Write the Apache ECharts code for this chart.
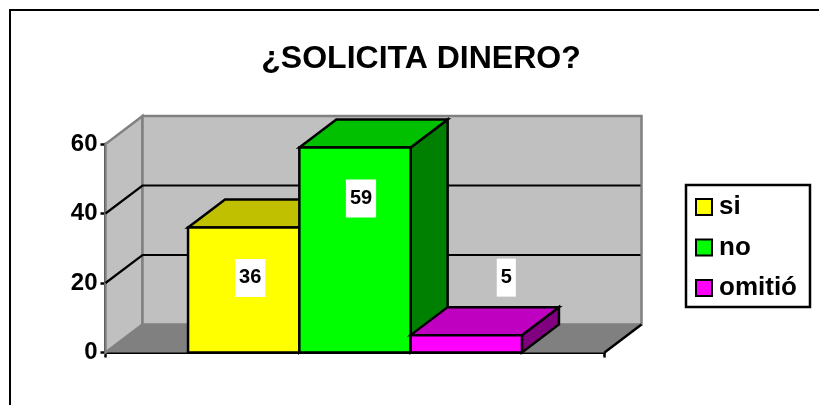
<!DOCTYPE html>
<html><head><meta charset="utf-8">
<style>html,body{margin:0;padding:0;background:#fff}#c{width:819px;height:405px}</style>
<script src="https://cdn.jsdelivr.net/npm/echarts@6/dist/echarts.min.js"></script>
</head><body><div id="c"></div>
<script>
const titleText = '¿SOLICITA DINERO?';
const categories = [''];
const seriesNames = ['si', 'no', 'omitió'];
const si = [36];
const no = [59];
const omitio = [5];
const yTicks = [0, 20, 40, 60];
const seriesColors = [
  {front: '#ffff00', top: '#c0c000', side: '#808000'},
  {front: '#00ff00', top: '#00c000', side: '#008000'},
  {front: '#ff00ff', top: '#c000c0', side: '#800080'}
];
const FONT = '"Liberation Sans", Arial, sans-serif';
const DX = 37, DY = 28;
const BAR_FRAC = 111.3 / 499;
const LABEL_OFFSETS = [[6.5, 50.5], [6, 51], [40, -57.5]];
const chart = echarts.init(document.getElementById('c'), null, {renderer: 'canvas'});
const lineS = {stroke: '#000', lineWidth: 2.5, lineJoin: 'miter'};
function wallsRender(params, api) {
  const cs = params.coordSys;
  const l = cs.x, r = cs.x + cs.width, t = cs.y, b = cs.y + cs.height;
  if (params.dataIndex === 0) {
    return {type: 'group', children: [
      {type: 'polygon', shape: {points: [[l, b], [l + DX, b - DY], [r + DX, b - DY], [r, b]]}, style: {fill: '#808080', stroke: null}},
      {type: 'polygon', shape: {points: [[l, b], [l, t], [l + DX, t - DY], [l + DX, b - DY]]}, style: {fill: '#c0c0c0', stroke: '#808080', lineWidth: 2.5}},
      {type: 'rect', shape: {x: l + DX, y: t - DY, width: cs.width, height: cs.height}, style: {fill: '#c0c0c0', stroke: '#808080', lineWidth: 2.5}},
      {type: 'line', shape: {x1: r, y1: b, x2: r + DX, y2: b - DY}, style: lineS}
    ]};
  }
  const v = api.value(0);
  if (v === 0 || v === yTicks[yTicks.length - 1]) return null;
  const y = api.coord([0, v])[1];
  return {type: 'polyline', shape: {points: [[l, y], [l + DX, y - DY], [r + DX - 1, y - DY]]}, style: {fill: null, stroke: '#000', lineWidth: 2.2}};
}
function barRender(idx) {
  return function (params, api) {
    const val = api.value(1);
    const c = api.coord([0, val]);
    const band = api.size([1, 0])[0];
    const w = band * BAR_FRAC;
    const x0 = c[0] + (idx - seriesNames.length / 2) * w;
    const x1 = x0 + w;
    const top = c[1], bot = api.coord([0, 0])[1];
    const col = seriesColors[idx];
    const st = {stroke: '#000', lineWidth: 2.5, lineJoin: 'miter'};
    const off = LABEL_OFFSETS[idx];
    return {type: 'group', children: [
      {type: 'polygon', shape: {points: [[x1, top], [x1 + DX, top - DY], [x1 + DX, bot - DY], [x1, bot]]}, style: {fill: col.side, ...st}},
      {type: 'polygon', shape: {points: [[x0, top], [x0 + DX, top - DY], [x1 + DX, top - DY], [x1, top]]}, style: {fill: col.top, ...st}},
      {type: 'rect', shape: {x: x0, y: top, width: w, height: bot - top}, style: {fill: col.front, ...st}},
      {type: 'text', z2: 50, style: {text: String(val), x: (x0 + x1) / 2 + off[0], y: top + off[1], align: 'center', verticalAlign: 'middle',
        font: 'bold 20px ' + FONT, fill: '#000', backgroundColor: '#fff', padding: [10, 4, 8, 4]}}
    ]};
  };
}
const values = [si, no, omitio];
chart.setOption({
  animation: false,
  backgroundColor: '#fff',
  title: {text: titleText, left: 416, top: 38, textAlign: 'center', textStyle: {fontFamily: FONT, fontWeight: 'bold', fontSize: 32, color: '#000'}},
  grid: {left: 105.5, top: 144, width: 499, height: 208.5},
  legend: {
    orient: 'vertical', left: 686, top: 185, data: seriesNames, icon: 'rect', itemWidth: 16, itemHeight: 16, itemGap: 14.5,
    backgroundColor: '#fff', borderColor: '#000', borderWidth: 2.5, padding: [9, 13, 6, 9], selectedMode: false,
    textStyle: {fontFamily: FONT, fontWeight: 'bold', fontSize: 26, color: '#000', padding: [0, 0, 0, 2]}
  },
  xAxis: {type: 'category', data: categories, axisLine: {lineStyle: {color: '#000', width: 3}}, axisTick: {show: true, length: 5, alignWithLabel: false, lineStyle: {color: '#000', width: 2.5}}, axisLabel: {show: false}},
  yAxis: {type: 'value', min: 0, max: 60, interval: 20, axisLine: {show: true, lineStyle: {color: '#000', width: 3}}, axisTick: {show: true, length: 5, lineStyle: {color: '#000', width: 2.5}}, splitLine: {show: false},
    axisLabel: {margin: 8, fontFamily: FONT, fontWeight: 'bold', fontSize: 24, color: '#000'}},
  graphic: [{type: 'rect', z: -1, shape: {x: 10, y: 10, width: 830, height: 420}, style: {fill: 'none', stroke: '#000', lineWidth: 2}}],
  series: [
    {type: 'custom', name: 'walls', silent: true, z: 1, renderItem: wallsRender, data: yTicks.map(v => [v]), encode: {x: [], y: 0}, clip: false},
    ...seriesNames.map((n, i) => ({type: 'custom', name: n, z: 2 + i, renderItem: barRender(i), clip: false,
      itemStyle: {color: seriesColors[i].front, borderColor: '#000', borderWidth: 2.5},
      data: values[i].map((v, k) => [categories[k], v]), encode: {x: 0, y: 1}}))
  ]
});
</script></body></html>
